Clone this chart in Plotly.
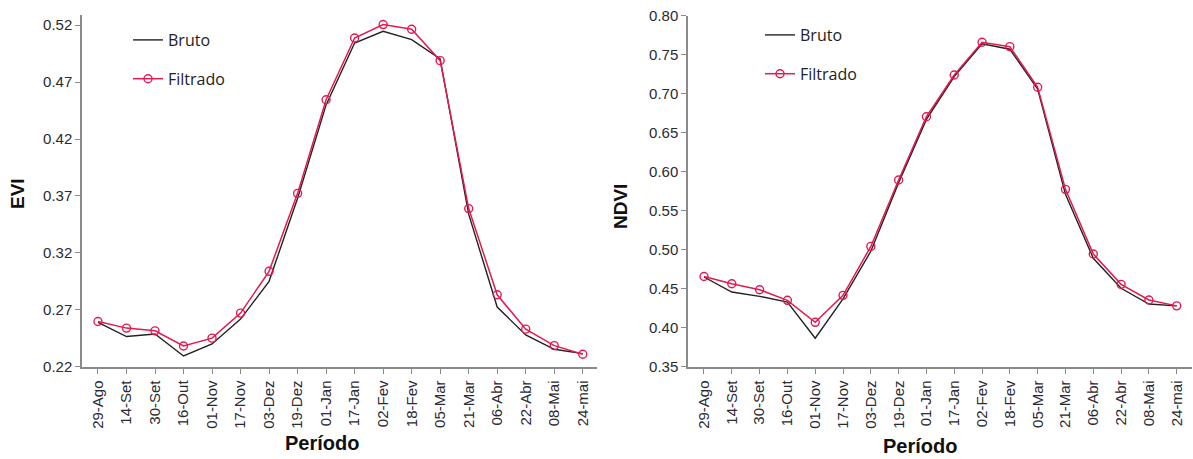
import plotly.graph_objects as go

periodos = ["29-Ago", "14-Set", "30-Set", "16-Out", "01-Nov", "17-Nov", "03-Dez", "19-Dez", "01-Jan",
            "17-Jan", "02-Fev", "18-Fev", "05-Mar", "21-Mar", "06-Abr", "22-Abr", "08-Mai", "24-mai"]

evi_bruto = [0.259, 0.2465, 0.2487, 0.2294, 0.2400, 0.2618, 0.2950, 0.368, 0.450, 0.5044, 0.5147,
             0.5074, 0.4905, 0.354, 0.2724, 0.2479, 0.2353, 0.2315]
evi_filtrado = [0.2597, 0.2539, 0.2515, 0.2382, 0.2451, 0.2671, 0.3038, 0.3723, 0.4545, 0.5088, 0.5206,
                0.5165, 0.4889, 0.3589, 0.2832, 0.2530, 0.2385, 0.2309]

ndvi_bruto = [0.465, 0.4457, 0.4402, 0.4329, 0.3865, 0.437, 0.498, 0.586, 0.667, 0.722, 0.764,
              0.757, 0.706, 0.571, 0.489, 0.4505, 0.4304, 0.428]
ndvi_filtrado = [0.4657, 0.4564, 0.4487, 0.4351, 0.4069, 0.4415, 0.5042, 0.5894, 0.6705, 0.724, 0.7659,
                 0.7603, 0.7082, 0.5774, 0.4945, 0.4556, 0.4355, 0.428]

evi_ticks = [0.22, 0.27, 0.32, 0.37, 0.42, 0.47, 0.52]
ndvi_ticks = [0.35, 0.40, 0.45, 0.50, 0.55, 0.60, 0.65, 0.70, 0.75, 0.80]

W, H = 1193, 459
RED = "#E31A4F"
AXC = "#8a8a8a"
TICKF = dict(family="Liberation Sans, Arial", size=15, color="#2a2a33")

def px(x):
    return x / W

def py(y):
    return 1 - y / H

fig = go.Figure()

# Left panel (EVI)
fig.add_trace(go.Scatter(x=periodos, y=evi_bruto, mode="lines", name="Bruto",
                         line=dict(color="#222222", width=1.4), xaxis="x", yaxis="y",
                         legend="legend", legendgroup="b1"))
fig.add_trace(go.Scatter(x=periodos, y=evi_filtrado, mode="lines+markers", name="Filtrado",
                         line=dict(color=RED, width=1.5),
                         marker=dict(symbol="circle-open", size=8, color=RED, line=dict(width=1.4)),
                         xaxis="x", yaxis="y", legend="legend", legendgroup="f1"))

# Right panel (NDVI)
fig.add_trace(go.Scatter(x=periodos, y=ndvi_bruto, mode="lines", name="Bruto",
                         line=dict(color="#222222", width=1.4), xaxis="x2", yaxis="y2",
                         legend="legend2", legendgroup="b2"))
fig.add_trace(go.Scatter(x=periodos, y=ndvi_filtrado, mode="lines+markers", name="Filtrado",
                         line=dict(color=RED, width=1.5),
                         marker=dict(symbol="circle-open", size=8, color=RED, line=dict(width=1.4)),
                         xaxis="x2", yaxis="y2", legend="legend2", legendgroup="f2"))

xcommon = dict(type="category", showline=True, linecolor=AXC, linewidth=1.5, ticks="outside",
               tickcolor=AXC, ticklen=6, tickwidth=1.2, tickangle=-90, tickfont=TICKF,
               showgrid=False, zeroline=False, fixedrange=True, automargin=False)
ycommon = dict(showline=True, linecolor=AXC, linewidth=1.5, ticks="outside", tickcolor=AXC,
               ticklen=5, tickwidth=1.2, tickfont=TICKF, showgrid=False, zeroline=False,
               automargin=False)

legfont = dict(family="Open Sans, DejaVu Sans", size=16, color="#222222")

fig.update_layout(
    width=W, height=H,
    margin=dict(l=0, r=0, t=0, b=0, pad=0, autoexpand=False),
    paper_bgcolor="white", plot_bgcolor="white",
    xaxis=dict(xcommon, domain=[px(82), px(597)], range=[-0.56, 17.5], anchor="y"),
    yaxis=dict(ycommon, domain=[py(366.7), py(15)], range=[0.22, 0.529], tickvals=evi_ticks,
               ticktext=[f"{v:.2f}" for v in evi_ticks], anchor="x"),
    xaxis2=dict(xcommon, domain=[px(688), px(1192)], range=[-0.575, 17.55], anchor="y2"),
    yaxis2=dict(ycommon, domain=[py(366.7), py(15.7)], range=[0.35, 0.80], tickvals=ndvi_ticks,
                ticktext=[f"{v:.2f}" for v in ndvi_ticks], anchor="x2"),
    legend=dict(x=px(128), y=py(23), xanchor="left", yanchor="top", font=legfont,
                bgcolor="rgba(0,0,0,0)", traceorder="grouped", tracegroupgap=15),
    legend2=dict(x=px(760), y=py(18), xanchor="left", yanchor="top", font=legfont,
                 bgcolor="rgba(0,0,0,0)", traceorder="grouped", tracegroupgap=15),
    showlegend=True,
)

title_font_y = dict(family="Liberation Sans, Arial", size=19, color="#111111")
title_font_x = dict(family="Liberation Sans, Arial", size=20, color="#111111")
fig.add_annotation(text="<b>EVI</b>", x=px(17), y=py(194), xref="paper", yref="paper",
                   textangle=-90, showarrow=False, font=title_font_y, xanchor="center", yanchor="middle")
fig.add_annotation(text="<b>NDVI</b>", x=px(621), y=py(207), xref="paper", yref="paper",
                   textangle=-90, showarrow=False, font=title_font_y, xanchor="center", yanchor="middle")
fig.add_annotation(text="<b>Período</b>", x=px(322), y=py(443), xref="paper", yref="paper",
                   showarrow=False, font=title_font_x, xanchor="center", yanchor="middle")
fig.add_annotation(text="<b>Período</b>", x=px(920), y=py(446), xref="paper", yref="paper",
                   showarrow=False, font=title_font_x, xanchor="center", yanchor="middle")

fig.write_html("out.html")
